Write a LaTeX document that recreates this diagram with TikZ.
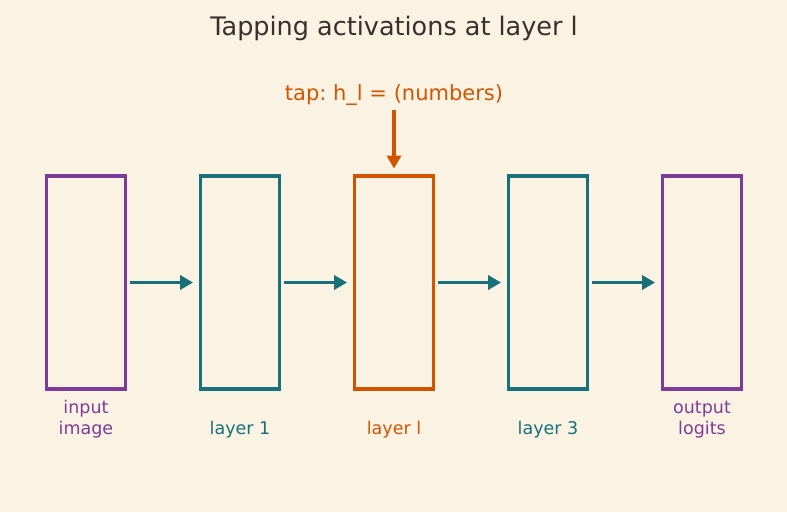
\documentclass[tikz,border=0pt]{standalone}
\usepackage{fontspec}
\setmainfont{DejaVu Sans}
\usepackage{xcolor}
\usetikzlibrary{positioning, arrows.meta}
\definecolor{bgcream}{HTML}{FAF3E3}
\definecolor{inkdark}{HTML}{3B3029}
\definecolor{ioviolet}{HTML}{7D3C98}
\definecolor{hidteal}{HTML}{17707A}
\definecolor{taporange}{HTML}{D35400}
\frenchspacing
\tikzset{
  lyr/.style={draw=#1, line width=3.8pt, minimum width=79pt, minimum height=213pt,
              inner sep=0pt},
  fwd/.style={-{Triangle[length=13pt, width=14pt]}, line width=3.5pt, draw=hidteal,
              shorten <=3pt, shorten >=5.5pt},
  cap/.style={text=#1, font=\fontsize{17.5}{21}\selectfont, align=center,
              inner sep=0pt}
}
\begin{document}
\begin{tikzpicture}[x=1pt, y=-1pt]
  \fill[bgcream] (0,0) rectangle (787,512);
  \useasboundingbox (0,0) rectangle (787,512);
  \node[text=inkdark, font=\fontsize{25.5}{30}\selectfont] (title) at (394,28.5) {Tapping activations at layer l};
  \node[lyr=ioviolet] (inp) at (86,282.5) {};
  \node[lyr=hidteal] (l1) at (240,282.5) {};
  \node[lyr=taporange] (ll) at (394,282.5) {};
  \node[lyr=hidteal] (l3) at (548,282.5) {};
  \node[lyr=ioviolet] (out) at (702,282.5) {};
  \node[cap=ioviolet] (inplbl) at (86,419.5) {input\\image};
  \node[cap=hidteal] (l1lbl) at (240,430) {layer 1};
  \node[cap=taporange] (lllbl) at (394,430) {layer l};
  \node[cap=hidteal] (l3lbl) at (548,430) {layer 3};
  \node[cap=ioviolet] (outlbl) at (702,419.5) {output\\logits};
  \node[text=taporange, font=\fontsize{21}{25}\selectfont, inner sep=0pt] (tap) at (394,95) {tap: h\_l = (numbers)};
  \draw[fwd] (inp) -- (l1);
  \draw[fwd] (l1) -- (ll);
  \draw[fwd] (ll) -- (l3);
  \draw[fwd] (l3) -- (out);
  \draw[fwd, draw=taporange, shorten <=4pt, shorten >=5.5pt] (tap) -- (ll);
\end{tikzpicture}
\end{document}
